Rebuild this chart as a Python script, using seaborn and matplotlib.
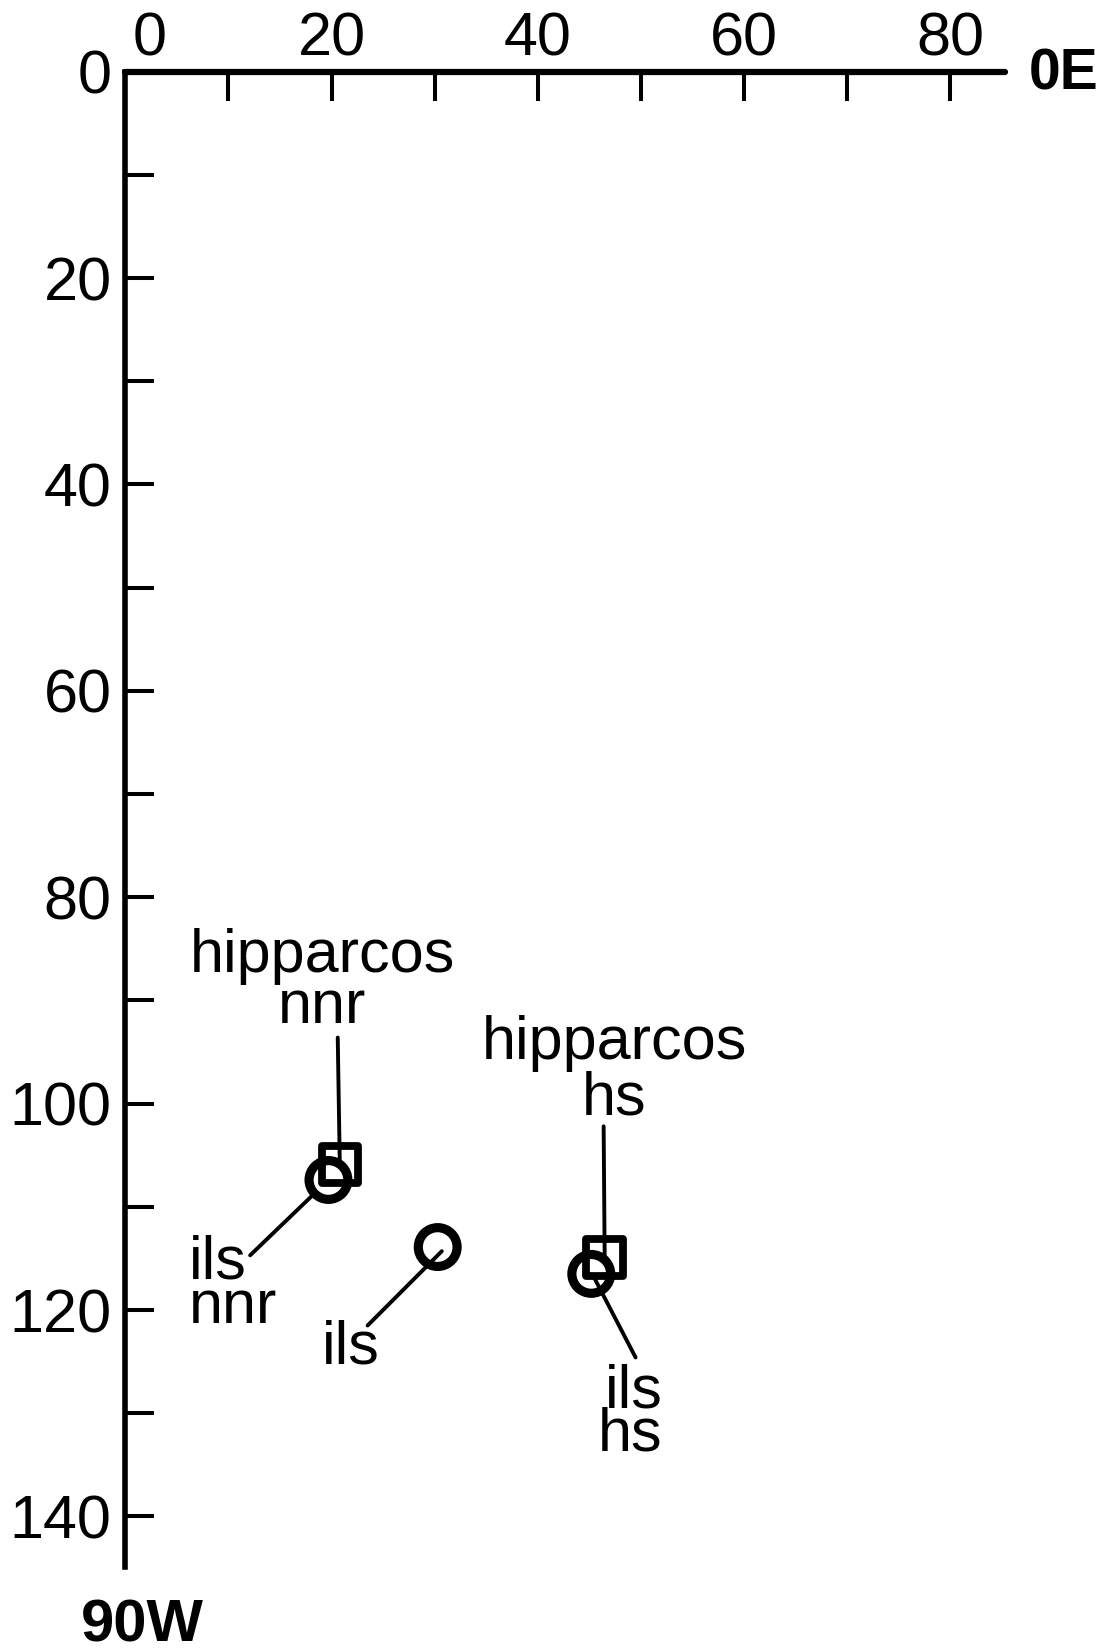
import matplotlib
matplotlib.use("Agg")
import matplotlib.pyplot as plt
import matplotlib.transforms as mtransforms
import seaborn as sns
import pandas as pd

# ---- data ----
source = ["hipparcos", "ils", "ils", "hipparcos", "ils"]
model = ["nnr", "nnr", "", "hs", "hs"]
x_vals = [20.8, 19.7, 30.3, 46.5, 45.2]
y_vals = [105.9, 107.4, 113.9, 114.9, 116.5]
labels = ["hipparcos\nnnr", "ils\nnnr", "ils", "hipparcos\nhs", "ils\nhs"]

x_major = [0, 20, 40, 60, 80]
x_minor = [10, 30, 50, 70]
y_major = [0, 20, 40, 60, 80, 100, 120, 140]
y_minor = [10, 30, 50, 70, 90, 110, 130]

df = pd.DataFrame({"x": x_vals, "y": y_vals, "source": source, "model": model})

sns.set_theme(style="ticks")
plt.rcParams["font.family"] = ["Liberation Sans", "DejaVu Sans"]
plt.rcParams["text.color"] = "black"
plt.rcParams["xtick.color"] = "black"
plt.rcParams["ytick.color"] = "black"

fig = plt.figure(figsize=(11.1, 16.51), dpi=100)
ax = fig.add_axes([0.113, 0.0509, 0.905 - 0.113, 0.9566 - 0.0509])

sq = df[df["source"] == "hipparcos"]
ci = df[df["source"] == "ils"]
sns.scatterplot(data=sq, x="x", y="y", marker="s", s=690, facecolor="none",
                edgecolor="black", linewidth=5.6, ax=ax, zorder=3)
sns.scatterplot(data=ci, x="x", y="y", marker="o", s=780, facecolor="none",
                edgecolor="black", linewidth=6.6, ax=ax, zorder=4)

ax.set_xlim(0, 85.3)
ax.set_ylim(144.9, 0)
ax.xaxis.tick_top()
ax.set_xlabel("")
ax.set_ylabel("")

ax.set_xticks(x_major)
ax.set_xticklabels([str(v) for v in x_major])
ax.set_xticks(x_minor, minor=True)
ax.set_yticks(y_major)
ax.set_yticklabels([str(v) for v in y_major])
ax.set_yticks(y_minor, minor=True)

for which in ("major", "minor"):
    ax.tick_params(axis="x", which=which, direction="in", length=21, width=2.9,
                   color="black", top=True, bottom=False, pad=2)
    ax.tick_params(axis="y", which=which, direction="in", length=21, width=2.9,
                   color="black", left=True, right=False, pad=10)
ax.tick_params(axis="both", which="major", labelsize=44, labelcolor="black")

for s in ("right", "bottom"):
    ax.spines[s].set_visible(False)
ax.spines["top"].set_linewidth(4.5)
ax.spines["left"].set_linewidth(4.0)
ax.spines["top"].set_color("black")
ax.spines["left"].set_color("black")
ax.spines["top"].set_capstyle("round")

# shift the "0" x label right so it clears the y "0"
lbl0 = ax.get_xticklabels()[0]
lbl0.set_transform(lbl0.get_transform() + mtransforms.ScaledTranslation(24 / 100, 0, fig.dpi_scale_trans))

fs = 44
lw_lead = 2.8
ax.text(19.1, 83.0, labels[0], ha="center", va="top", fontsize=fs, linespacing=0.86)
ax.annotate("", xy=(x_vals[0], y_vals[0]), xytext=(20.6, 93.6),
            arrowprops=dict(arrowstyle="-", lw=lw_lead, color="black", shrinkA=0, shrinkB=0))

ax.text(47.4, 91.4, labels[3], ha="center", va="top", fontsize=fs, linespacing=0.97)
ax.annotate("", xy=(x_vals[3], y_vals[3]), xytext=(46.4, 102.2),
            arrowprops=dict(arrowstyle="-", lw=lw_lead, color="black", shrinkA=0, shrinkB=0))

ax.text(6.2, 112.7, labels[1], ha="left", va="top", fontsize=fs, linespacing=0.71)
ax.annotate("", xy=(x_vals[1], y_vals[1]), xytext=(12.1, 114.7),
            arrowprops=dict(arrowstyle="-", lw=lw_lead, color="black", shrinkA=0, shrinkB=17))

ax.text(21.9, 120.9, labels[2], ha="center", va="top", fontsize=fs)
ax.annotate("", xy=(x_vals[2] + 0.4, y_vals[2] + 0.4), xytext=(23.5, 121.5),
            arrowprops=dict(arrowstyle="-", lw=lw_lead, color="black", shrinkA=0, shrinkB=0))

ax.text(52.1, 125.2, labels[4], ha="right", va="top", fontsize=fs, linespacing=0.67,
        multialignment="right")
ax.annotate("", xy=(x_vals[4] + 0.3, y_vals[4] + 0.4), xytext=(49.5, 124.6),
            arrowprops=dict(arrowstyle="-", lw=lw_lead, color="black", shrinkA=0, shrinkB=0))

# direction labels
ax.text(87.6, 0.3, "0E", ha="left", va="center", fontsize=41, fontweight="bold",
        clip_on=False)
ax.text(1.6, 150.6, "90W", ha="center", va="center", fontsize=43, fontweight="bold",
        clip_on=False)

fig.savefig("out.png", dpi=100)
